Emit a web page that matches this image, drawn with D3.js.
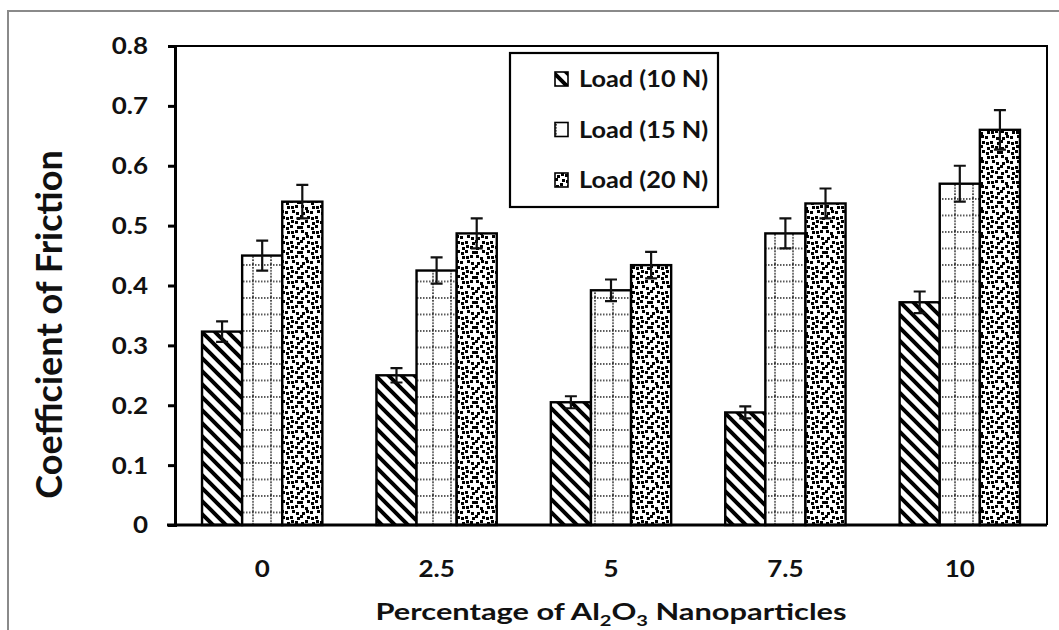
<!DOCTYPE html>
<html>
<head>
<meta charset="utf-8">
<script src="https://cdn.jsdelivr.net/npm/d3@7"></script>
<style>
  html, body { margin: 0; padding: 0; background: #fff; }
  svg { display: block; }
  text { font-family: Lato, "Open Sans", "DejaVu Sans", sans-serif; font-weight: bold; fill: #111; }
</style>
</head>
<body>
<svg id="chart" width="1059" height="630"></svg>
<script>
// Friction coefficient vs. Al2O3 nanoparticle content at three loads
const categories = ["0", "2.5", "5", "7.5", "10"];
const seriesNames = ["Load (10 N)", "Load (15 N)", "Load (20 N)"];
const load10 = [0.323, 0.250, 0.205, 0.188, 0.372];
const load15 = [0.450, 0.425, 0.392, 0.487, 0.570];
const load20 = [0.540, 0.487, 0.434, 0.537, 0.660];
const err10 = [0.017, 0.012, 0.010, 0.010, 0.018];
const err15 = [0.025, 0.022, 0.018, 0.025, 0.030];
const err20 = [0.028, 0.025, 0.022, 0.025, 0.033];
const yTicks = [0, 0.1, 0.2, 0.3, 0.4, 0.5, 0.6, 0.7, 0.8];

const seriesValues = [load10, load15, load20];
const seriesErrors = [err10, err15, err20];
const patternIds = ["pat-diag", "pat-grid", "pat-confetti"];

const svg = d3.select("#chart");
const defs = svg.append("defs");

// wide downward diagonal stripes
const diagSize = 13;
const pDiag = defs.append("pattern").attr("id", "pat-diag")
  .attr("patternUnits", "userSpaceOnUse").attr("width", diagSize).attr("height", diagSize);
pDiag.append("rect").attr("width", diagSize).attr("height", diagSize).attr("fill", "#fff");
pDiag.append("path")
  .attr("d", `M${-diagSize},0 L${diagSize},${2 * diagSize} M0,${-diagSize} L${2 * diagSize},${diagSize} M${-diagSize},${-diagSize} L${2 * diagSize},${2 * diagSize}`)
  .attr("stroke", "#000").attr("stroke-width", 4);

// dotted grid
const pGrid = defs.append("pattern").attr("id", "pat-grid")
  .attr("patternUnits", "userSpaceOnUse").attr("width", 18).attr("height", 16.5);
pGrid.append("rect").attr("width", 18).attr("height", 16.5).attr("fill", "#fff");
pGrid.append("path").attr("d", "M0,1 H18 M1,0 V16.5")
  .attr("stroke", "#222").attr("stroke-width", 1.6).attr("stroke-dasharray", "1.5,1.5");

// large confetti: jittered 5x5 cells in a 25px tile
const pConf = defs.append("pattern").attr("id", "pat-confetti")
  .attr("patternUnits", "userSpaceOnUse").attr("width", 25).attr("height", 25);
pConf.append("rect").attr("width", 25).attr("height", 25).attr("fill", "#fff");
const confettiJitter = [
  [[0,1],[2,0],[1,2],[0,0],[2,1]],
  [[1,0],[0,2],[2,1],[1,1],[0,0]],
  [[2,2],[1,0],[0,1],[2,0],[1,2]],
  [[0,0],[2,1],[1,2],[0,1],[2,2]],
  [[1,2],[0,0],[2,2],[1,0],[0,1]]
];
const confettiDots = [];
confettiJitter.forEach((row, r) => row.forEach((o, c) => confettiDots.push([c * 5 + o[0], r * 5 + o[1]])));
pConf.selectAll("rect.d").data(confettiDots).join("rect").attr("class", "d")
  .attr("x", d => d[0]).attr("y", d => d[1]).attr("width", 3).attr("height", 3).attr("fill", "#000");

// outer chart frame
svg.append("path").attr("d", "M8,630 V11 H1059")
  .attr("fill", "none").attr("stroke", "#8a8a8a").attr("stroke-width", 2);

const plot = { left: 175, right: 1047, top: 46, bottom: 525 };

const x = d3.scaleBand().domain(categories).range([plot.left, plot.right]).padding(0);
const groupFrac = 0.69;
const xSub = d3.scaleBand().domain(d3.range(seriesNames.length))
  .range([0, x.bandwidth() * groupFrac]).padding(0);
const groupOffset = x.bandwidth() * (1 - groupFrac) / 2;
const y = d3.scaleLinear().domain([0, 0.8]).range([plot.bottom, plot.top]);

// plot frame (top / right)
svg.append("path")
  .attr("d", `M${plot.left},${plot.top} H${plot.right} V${plot.bottom}`)
  .attr("fill", "none").attr("stroke", "#000").attr("stroke-width", 2);

// bars
const rows = [];
seriesValues.forEach((vals, s) => vals.forEach((v, i) => rows.push({ s, i, v, e: seriesErrors[s][i] })));

svg.append("g").selectAll("rect").data(rows).join("rect")
  .attr("x", d => x(categories[d.i]) + groupOffset + xSub(d.s))
  .attr("y", d => y(d.v))
  .attr("width", xSub.bandwidth())
  .attr("height", d => y(0) - y(d.v))
  .attr("fill", d => `url(#${patternIds[d.s]})`)
  .attr("stroke", "#000").attr("stroke-width", 2.4);

// error bars
const eg = svg.append("g").attr("stroke", "#111").attr("stroke-width", 2.2).attr("fill", "none");
eg.selectAll("path").data(rows).join("path")
  .attr("d", d => {
    const cx = x(categories[d.i]) + groupOffset + xSub(d.s) + xSub.bandwidth() / 2;
    const y1 = y(d.v + d.e), y0 = y(d.v - d.e);
    return `M${cx - 6},${y1} H${cx + 6} M${cx},${y1} V${y0} M${cx - 6},${y0} H${cx + 6}`;
  });

// y axis
const yAxis = svg.append("g").attr("transform", `translate(${plot.left},0)`)
  .call(d3.axisLeft(y).tickValues(yTicks).tickFormat(d => d === 0 ? "0" : d3.format(".1f")(d)).tickSize(7));
yAxis.select(".domain").attr("stroke", "#000").attr("stroke-width", 3);
yAxis.selectAll(".tick line").attr("stroke", "#000").attr("stroke-width", 3);
yAxis.selectAll(".tick text")
  .attr("x", 0).attr("dy", "0.36em")
  .attr("transform", "translate(-27,0) scale(1.18,1)")
  .style("font-size", "22px").attr("fill", "#111");

// x axis
const xAxis = svg.append("g").attr("transform", `translate(0,${plot.bottom})`)
  .call(d3.axisBottom(x).tickSize(0));
xAxis.select(".domain").attr("d", `M${plot.left - 8},0 H${plot.right}`)
  .attr("stroke", "#000").attr("stroke-width", 3);
xAxis.selectAll(".tick text")
  .attr("y", 0).attr("dy", 0)
  .attr("transform", "translate(0,52) scale(1.18,1)")
  .style("font-size", "22px").attr("fill", "#111");

// axis titles
svg.append("text")
  .attr("transform", `translate(62,${(plot.top + plot.bottom) / 2 + 39}) rotate(-90)`)
  .attr("text-anchor", "middle").style("font-size", "36px")
  .text("Coefficient of Friction");

const xt = svg.append("text").attr("transform", "translate(611,620) scale(1.34,1)")
  .attr("text-anchor", "middle").style("font-size", "23px");
xt.append("tspan").text("Percentage of Al");
xt.append("tspan").attr("dy", 6).style("font-size", "15px").text("2");
xt.append("tspan").attr("dy", -6).text("O");
xt.append("tspan").attr("dy", 6).style("font-size", "15px").text("3");
xt.append("tspan").attr("dy", -6).text(" Nanoparticles");

// legend
const legend = svg.append("g");
legend.append("rect").attr("x", 510).attr("y", 53).attr("width", 208).attr("height", 154)
  .attr("fill", "#fff").attr("stroke", "#000").attr("stroke-width", 2.2);
const li = legend.selectAll("g.item").data(seriesNames).join("g").attr("class", "item")
  .attr("transform", (d, i) => `translate(555,${87 + i * 50.5})`);
li.append("rect").attr("x", 0).attr("y", -15).attr("width", 13).attr("height", 14)
  .attr("fill", (d, i) => `url(#${patternIds[i]})`).attr("stroke", "#000").attr("stroke-width", 1.6);
li.append("text").attr("transform", "translate(24,0) scale(1.1,1)").style("font-size", "23px").text(d => d);
</script>
</body>
</html>
